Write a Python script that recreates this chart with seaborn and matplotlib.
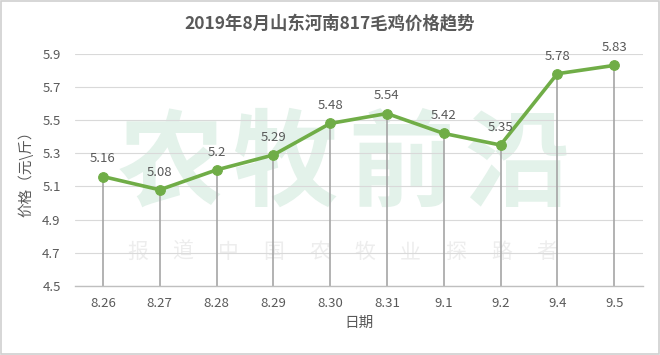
import matplotlib
matplotlib.use("Agg")
import matplotlib.pyplot as plt
import seaborn as sns
import numpy as np
import pandas as pd

dates = ["8.26", "8.27", "8.28", "8.29", "8.30", "8.31", "9.1", "9.2", "9.4", "9.5"]
prices = [5.16, 5.08, 5.2, 5.29, 5.48, 5.54, 5.42, 5.35, 5.78, 5.83]
yticks = [4.5, 4.7, 4.9, 5.1, 5.3, 5.5, 5.7, 5.9]
title = "2019年8月山东河南817毛鸡价格趋势"
xlabel = "日期"
ylabel = "价格（元\\斤）"
watermark = "农牧前沿"
watermark_sub = "报道中国农牧业探路者"

sns.set_theme(style="white")
plt.rcParams['font.family'] = ['Noto Sans CJK SC', 'DejaVu Sans']

txt = "#595959"
green = "#70AD47"

df = pd.DataFrame({"pos": np.arange(len(dates)), "date": dates, "price": prices})

fig = plt.figure(figsize=(6.6, 3.55), dpi=100)
fig.patch.set_facecolor("white")
fig.add_artist(plt.Rectangle((0.002, 0.003), 0.996, 0.994, transform=fig.transFigure,
                             fill=False, edgecolor="#D0D0D0", linewidth=1.2))
ax = fig.add_axes([0.1129, 0.1944, 0.8606, 0.654])

ax.set_ylim(4.5, 5.9)
ax.set_xlim(-0.5, len(dates) - 0.5)
for y in yticks:
    ax.axhline(y, color="#D9D9D9", linewidth=0.8, zorder=0)

# watermark (figure coordinates, behind the axes)
for xf, ch in zip(np.linspace(0.258, 0.783, len(watermark)), watermark):
    fig.text(xf, 0.53, ch, ha="center", va="center", fontsize=76,
             color="#E3F2EA", fontweight="bold", zorder=-1)
for xf, ch in zip(np.linspace(0.208, 0.829, len(watermark_sub)), watermark_sub):
    fig.text(xf, 0.29, ch, ha="center", va="center", fontsize=15,
             color="#EDEDED", zorder=-1)
ax.set_facecolor("none")

ax.vlines(df["pos"], 4.5, df["price"], color="#A5A5A5", linewidth=1.2, zorder=2)
sns.lineplot(data=df, x="pos", y="price", ax=ax, color=green, linewidth=2.6,
             marker="o", markersize=7, markeredgecolor=green, zorder=3)

for x, y in zip(df["pos"], df["price"]):
    ax.annotate(f"{y:g}", (x, y), xytext=(0, 8), textcoords="offset points",
                ha="center", va="bottom", fontsize=9.5, color=txt)

ax.set_yticks(yticks)
ax.set_yticklabels([f"{v:.1f}" for v in yticks], fontsize=9.5, color=txt)
ax.set_xticks(df["pos"])
ax.set_xticklabels(dates, fontsize=9.5, color=txt)
ax.set_xticks(np.arange(-0.5, len(dates), 1.0), minor=True)
ax.tick_params(axis="x", which="major", length=0, pad=8)
ax.tick_params(axis="x", which="minor", length=4, color="#BFBFBF", direction="out")
ax.tick_params(axis="y", length=0, pad=10)

for s in ["top", "right", "left"]:
    ax.spines[s].set_visible(False)
ax.spines["bottom"].set_color("#BFBFBF")
ax.spines["bottom"].set_linewidth(1)

ax.set_xlabel(xlabel, fontsize=10.5, color=txt, labelpad=4)
ax.set_ylabel(ylabel, fontsize=10.5, color=txt, labelpad=6)
fig.text(0.5, 0.935, title, ha="center", va="center", fontsize=12.5,
         fontweight="bold", color=txt)

fig.savefig("out.png", dpi=100, facecolor="white")
